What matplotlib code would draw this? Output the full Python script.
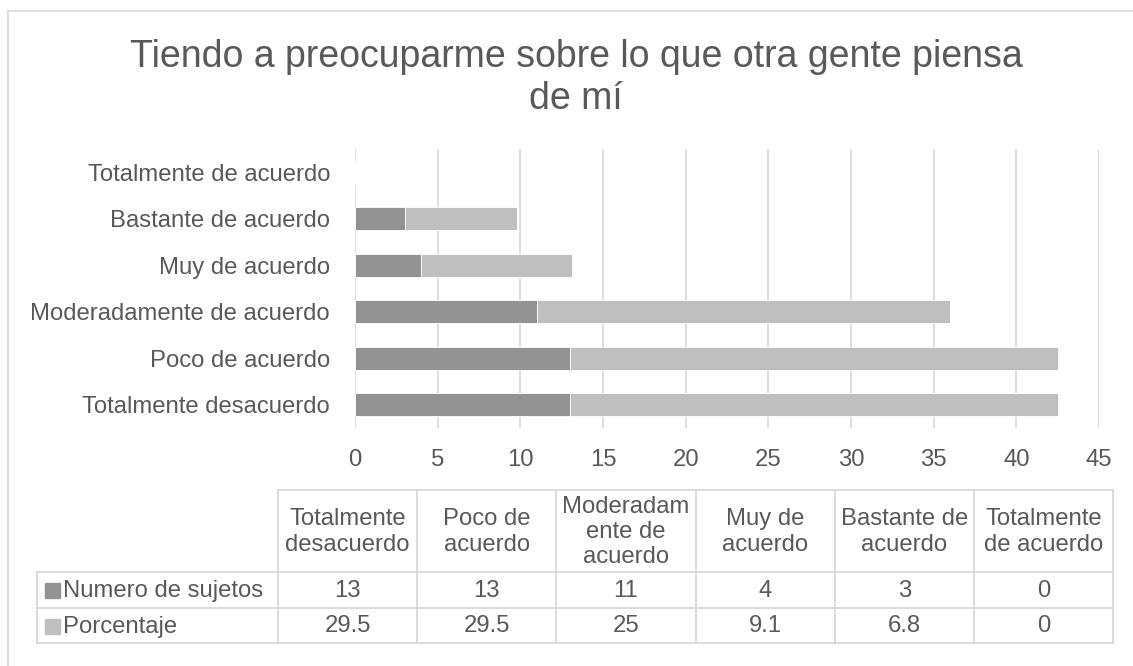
import matplotlib
matplotlib.use("Agg")
import matplotlib.pyplot as plt
from matplotlib.patches import Rectangle
from matplotlib.lines import Line2D

plt.rcParams['font.family'] = ['Liberation Sans', 'DejaVu Sans']

# ---- data ----
categories = ["Totalmente desacuerdo", "Poco de acuerdo", "Moderadamente de acuerdo",
              "Muy de acuerdo", "Bastante de acuerdo", "Totalmente de acuerdo"]
header_labels = ["Totalmente\ndesacuerdo", "Poco de\nacuerdo", "Moderadam\nente de\nacuerdo",
                 "Muy de\nacuerdo", "Bastante de\nacuerdo", "Totalmente\nde acuerdo"]
numero_sujetos = [13, 13, 11, 4, 3, 0]
porcentaje = [29.5, 29.5, 25, 9.1, 6.8, 0]
numero_txt = ["13", "13", "11", "4", "3", "0"]
porcentaje_txt = ["29.5", "29.5", "25", "9.1", "6.8", "0"]
series_names = ["Numero de sujetos", "Porcentaje"]
x_ticks = [0, 5, 10, 15, 20, 25, 30, 35, 40, 45]
title_lines = ["Tiendo a preocuparme sobre lo que otra gente piensa", "de mí"]

# ---- style ----
W, H = 1133, 666
TXT = "#595959"
GRID = "#d9d9d9"
C_DARK = "#939393"
C_LIGHT = "#bfbfbf"
FS = 17.2

fig = plt.figure(figsize=(W / 100, H / 100), dpi=100)

# background / frame layer in pixel coords
bg = fig.add_axes([0, 0, 1, 1])
bg.set_xlim(0, W)
bg.set_ylim(H, 0)
bg.axis("off")
bg.add_line(Line2D([8, 8], [11, H + 5], color=GRID, lw=1.2))
bg.add_line(Line2D([8, W + 5], [11, 11], color=GRID, lw=1.2))

# title (two lines, baselines at reference positions)
for line, yb in zip(title_lines, [67, 109]):
    bg.text(576, yb, line, ha="center", va="baseline", fontsize=27, color=TXT)

# ---- bar chart ----
ax_l, ax_r, ax_t, ax_b = 355, 1099, 149, 428
ax = fig.add_axes([ax_l / W, 1 - ax_b / H, (ax_r - ax_l) / W, (ax_b - ax_t) / H])
ypos = list(range(len(categories)))
ax.barh(ypos, numero_sujetos, height=0.5, color=C_DARK, edgecolor="white", linewidth=0.6, zorder=3)
ax.barh(ypos, porcentaje, left=numero_sujetos, height=0.5, color=C_LIGHT,
        edgecolor="white", linewidth=0.6, zorder=3)
ax.set_xlim(0, 45)
ax.set_ylim(-0.5, len(categories) - 0.5)
ax.set_xticks(x_ticks)
ax.set_xticklabels([str(t) for t in x_ticks])
ax.set_yticks(ypos)
ax.set_yticklabels(categories)
ax.tick_params(axis="both", length=0, labelsize=FS, labelcolor=TXT)
ax.tick_params(axis="x", pad=15)
ax.tick_params(axis="y", pad=18)
for s in ax.spines.values():
    s.set_visible(False)
ax.grid(axis="x", color=GRID, lw=1.2, zorder=0)
ax.set_axisbelow(True)

# ---- data table ----
tl, tlab, tr = 37, 278, 1113
rows_y = [490, 572, 608, 643]
ncol = len(header_labels)
cw = (tr - tlab) / ncol
lw_t = 1.3
bg.add_line(Line2D([tlab, tr], [rows_y[0]] * 2, color=GRID, lw=lw_t))
for yy in rows_y[1:]:
    bg.add_line(Line2D([tl, tr], [yy] * 2, color=GRID, lw=lw_t))
bg.add_line(Line2D([tl, tl], [rows_y[1], rows_y[3]], color=GRID, lw=lw_t))
for i in range(ncol + 1):
    xx = tlab + i * cw
    bg.add_line(Line2D([xx, xx], [rows_y[0], rows_y[3]], color=GRID, lw=lw_t))

for i, lab in enumerate(header_labels):
    cx = tlab + (i + 0.5) * cw
    bg.text(cx, (rows_y[0] + rows_y[1]) / 2 + 1, lab, ha="center", va="center",
            fontsize=FS, color=TXT, linespacing=1.2)
    bg.text(cx, (rows_y[1] + rows_y[2]) / 2 + 1, numero_txt[i], ha="center", va="center",
            fontsize=FS, color=TXT)
    bg.text(cx, (rows_y[2] + rows_y[3]) / 2 + 1, porcentaje_txt[i], ha="center", va="center",
            fontsize=FS, color=TXT)

for r, (name, col) in enumerate(zip(series_names, [C_DARK, C_LIGHT])):
    cy = (rows_y[r + 1] + rows_y[r + 2]) / 2
    bg.add_patch(Rectangle((45, cy - 7), 15, 15, color=col))
    bg.text(63, cy + 1, name, ha="left", va="center", fontsize=FS, color=TXT)

fig.savefig("out.png", dpi=100)
